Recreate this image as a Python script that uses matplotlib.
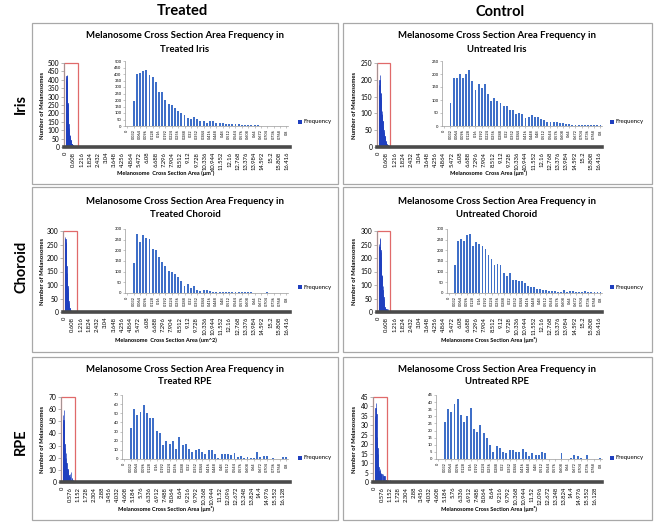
import numpy as np
import matplotlib
matplotlib.use("Agg")
import matplotlib.pyplot as plt
from matplotlib.patches import Rectangle

plt.rcParams['font.family'] = ['Lato', 'DejaVu Sans']

W, H = 656, 524

# histogram bins are 0.016 um^2 wide; the zoomed inset shows bins 0.032 .. 0.8
BIN = 0.016
FIRST_BIN = 2

# counts per bin (0.032 .. 0.8)
treated_iris = [195, 400, 410, 425, 430, 390, 380, 335, 262, 258,
                200, 170, 160, 135, 115, 100, 85, 65, 55, 70,
                55, 40, 40, 25, 35, 40, 20, 20, 20, 15,
                15, 12, 12, 12, 8, 8, 8, 5, 5, 5,
                3, 3, 3, 3, 2, 2, 2, 2, 2]
untreated_iris = [90, 185, 185, 200, 185, 200, 215, 175, 140, 160,
                  148, 160, 122, 95, 108, 97, 88, 78, 78, 62,
                  60, 48, 50, 45, 32, 35, 42, 33, 33, 27,
                  25, 17, 15, 15, 15, 12, 10, 7, 7, 5,
                  5, 5, 4, 3, 5, 2, 3, 2, 2]
treated_choroid = [140, 278, 238, 270, 260, 255, 205, 200, 170, 145,
                   128, 103, 97, 90, 75, 58, 35, 42, 25, 33,
                   15, 10, 15, 13, 10, 5, 5, 5, 5, 7,
                   3, 3, 3, 5, 3, 3, 5, 3, 2, 2,
                   1, 1, 3, 1, 2, 2, 1, 2, 1]
untreated_choroid = [132, 245, 252, 242, 270, 275, 222, 240, 228, 222,
                     205, 178, 160, 133, 138, 130, 95, 82, 95, 63,
                     62, 58, 55, 48, 35, 28, 30, 20, 18, 15,
                     12, 10, 8, 8, 5, 5, 12, 5, 8, 8,
                     5, 5, 3, 10, 3, 5, 3, 5, 5]
treated_rpe = [34, 55, 48, 51, 59, 50, 45, 45, 31, 28,
               15, 20, 16, 20, 11, 24, 15, 16, 11, 8,
               10, 11, 8, 5, 10, 10, 6, 1, 5, 6,
               5, 4, 7, 2, 3, 1, 2, 1, 1, 8,
               2, 3, 3, 0, 1, 0, 0, 2, 2]
untreated_rpe = [26, 35, 33, 39, 42, 31, 26, 30, 36, 21,
                 19, 24, 18, 15, 10, 5, 9, 8, 5, 4,
                 6, 6, 5, 5, 7, 5, 2, 4, 3, 3,
                 5, 4, 0, 0, 0, 0, 4, 0, 0, 1,
                 3, 2, 1, 0, 3, 0, 0, 0, 1]

# small tails past 0.8 that only show in the full-range plots
treated_iris_tail = [2, 1, 1, 2, 1, 1, 0, 1, 1, 0, 1, 0, 1, 0, 0, 1, 0, 0, 1]
untreated_iris_tail = [2, 2, 1, 1, 2, 1, 1, 1, 0, 1, 1, 0, 1, 1, 0, 0, 1, 0, 1]
treated_choroid_tail = [2, 1, 1, 1, 2, 1, 0, 1, 1, 0, 1, 0, 0, 1, 0, 0, 1]
untreated_choroid_tail = [4, 3, 3, 2, 3, 2, 2, 1, 2, 1, 1, 1, 0, 1, 1, 0, 1, 0, 1]
treated_rpe_tail = [1, 0, 1, 1, 0, 0, 1, 0, 0, 0, 0, 0, 1, 0, 0, 0, 0, 0, 0, 0, 1]
untreated_rpe_tail = [0, 1, 0, 0, 1, 0, 0, 0, 1, 0, 0, 0, 0, 1, 0, 0, 0, 0, 0, 0, 1]

inset_labels = ["0", "0.032", "0.064", "0.096", "0.128", "0.16", "0.192", "0.224",
                "0.256", "0.288", "0.32", "0.352", "0.384", "0.416", "0.448", "0.48",
                "0.512", "0.544", "0.576", "0.608", "0.64", "0.672", "0.704", "0.736",
                "0.768", "0.8"]
ticks_608 = ["0", "0.608", "1.216", "1.824", "2.432", "3.04", "3.648", "4.256",
             "4.864", "5.472", "6.08", "6.688", "7.296", "7.904", "8.512", "9.12",
             "9.728", "10.336", "10.944", "11.552", "12.16", "12.768", "13.376",
             "13.984", "14.592", "15.2", "15.808", "16.416"]
ticks_576 = ["0", "0.576", "1.152", "1.728", "2.304", "2.88", "3.456", "4.032",
             "4.608", "5.184", "5.76", "6.336", "6.912", "7.488", "8.064", "8.64",
             "9.216", "9.792", "10.368", "10.944", "11.52", "12.096", "12.672",
             "13.248", "13.824", "14.4", "14.976", "15.552", "16.128"]

XLAB = "Melanosome Cross Section Area (\u03bcm\u00b2)"

panels = [
    dict(row=0, col=0, data=treated_iris, tail=treated_iris_tail, ymax=500, ystep=50,
         title="Treated Iris", xlabel="Melanosome  Cross Section Area (\u03bcm\u00b2)",
         ticks=ticks_608, main_left=64, inset_left=125),
    dict(row=0, col=1, data=untreated_iris, tail=untreated_iris_tail, ymax=250, ystep=50,
         title="Untreated Iris", xlabel="Melanosome  Cross Area (\u03bcm\u00b2)",
         ticks=ticks_608, main_left=377, inset_left=442),
    dict(row=1, col=0, data=treated_choroid, tail=treated_choroid_tail, ymax=300, ystep=50,
         title="Treated Choroid", xlabel="Melanosome  Cross Section Area (um^2)",
         ticks=ticks_608, main_left=63, inset_left=125),
    dict(row=1, col=1, data=untreated_choroid, tail=untreated_choroid_tail, ymax=300, ystep=50,
         title="Untreated Choroid", xlabel=XLAB,
         ticks=ticks_608, main_left=377, inset_left=447),
    dict(row=2, col=0, data=treated_rpe, tail=treated_rpe_tail, ymax=70, ystep=10,
         title="Treated RPE", xlabel=XLAB,
         ticks=ticks_576, main_left=61, inset_left=122),
    dict(row=2, col=1, data=untreated_rpe, tail=untreated_rpe_tail, ymax=45, ystep=5,
         title="Untreated RPE", xlabel=XLAB,
         ticks=ticks_576, main_left=373, inset_left=436),
]

# pixel layout of rows and columns
ROWS = [
    dict(box=(23, 184), t1=35, t2=49, mtop=63, mzero=147, itop=61, izero=126, xlab=173, leg=122),
    dict(box=(187, 352), t1=202, t2=215, mtop=231, mzero=312, itop=229, izero=293, xlab=340, leg=287),
    dict(box=(357, 520), t1=369, t2=382, mtop=397, mzero=482, itop=395, izero=459, xlab=509, leg=458),
]
COLS = [
    dict(box=(32, 338), title=185, main_right=290, inset_right=288, ylab=43, leg=300, xlab=166),
    dict(box=(343, 652), title=497, main_right=602, inset_right=602, ylab=355, leg=612, xlab=489),
]

MAIN_BLUE = "#1f3fbf"
INSET_BLUE = "#3f6fc8"
GRID_GREY = "#9a9a9a"


def fig_rect(x0, y0, x1, y1):
    return [x0 / W, 1 - y1 / H, (x1 - x0) / W, (y1 - y0) / H]


def draw_panel(fig, p):
    r = ROWS[p["row"]]
    c = COLS[p["col"]]

    bx0, bx1 = c["box"]
    by0, by1 = r["box"]
    fig.add_artist(Rectangle((bx0 / W, 1 - by1 / H), (bx1 - bx0) / W, (by1 - by0) / H,
                             transform=fig.transFigure, fill=False, ec="#a8a8a8", lw=0.9))

    fig.text(c["title"] / W, 1 - r["t1"] / H, "Melanosome Cross Section Area Frequency in",
             ha="center", va="center", fontsize=6.9, fontweight="bold")
    fig.text(c["title"] / W, 1 - r["t2"] / H, p["title"],
             ha="center", va="center", fontsize=6.9, fontweight="bold")

    yticks = np.arange(0, p["ymax"] + 1, p["ystep"])

    # full range histogram
    ax = fig.add_axes(fig_rect(p["main_left"], r["mtop"], c["main_right"], r["mzero"]))
    counts = np.array(p["data"] + p["tail"])
    x = BIN * np.arange(FIRST_BIN, FIRST_BIN + len(counts))
    ax.bar(x, counts, width=BIN, color=MAIN_BLUE, ec=MAIN_BLUE, lw=0.5)
    ax.set_xlim(-0.1, 16.63)
    ax.set_ylim(0, p["ymax"])
    ax.set_yticks(yticks)
    ax.set_yticklabels([str(v) for v in yticks], fontsize=4.8)
    ax.set_xticks([float(t) for t in p["ticks"]])
    ax.set_xticklabels(p["ticks"], rotation=90, fontsize=4.2)
    ax.tick_params(axis="x", length=0, pad=3.5)
    ax.tick_params(axis="y", length=2, width=0.5, color=GRID_GREY, pad=1.5)
    for s in ["top", "right"]:
        ax.spines[s].set_visible(False)
    ax.spines["left"].set_color(GRID_GREY)
    ax.spines["left"].set_linewidth(0.6)
    ax.spines["bottom"].set_color("#4a4a4a")
    ax.spines["bottom"].set_linewidth(2.6)
    ax.add_patch(Rectangle((-0.1, 0), 1.0, p["ymax"], fill=False, ec="#e06a6a",
                           lw=0.9, clip_on=False))

    fig.text(c["ylab"] / W, 1 - (r["mtop"] + r["mzero"]) / 2 / H, "Number of Melanosomes",
             rotation=90, ha="center", va="center", fontsize=4.2, fontweight="bold")
    fig.text(c["xlab"] / W, 1 - r["xlab"] / H, p["xlabel"],
             ha="center", va="center", fontsize=4.1, fontweight="bold")

    # zoomed inset of the first bins
    iax = fig.add_axes(fig_rect(p["inset_left"], r["itop"], c["inset_right"], r["izero"]))
    idx = np.arange(FIRST_BIN, FIRST_BIN + len(p["data"]))
    iax.bar(idx, p["data"], width=0.6, color=INSET_BLUE, lw=0)
    iax.set_xlim(-0.7, 50.5)
    iax.set_ylim(0, p["ymax"])
    iax.set_yticks(yticks)
    iax.set_yticklabels([str(v) for v in yticks], fontsize=3.0)
    iax.set_xticks(np.arange(0, 2 * len(inset_labels), 2))
    iax.set_xticklabels(inset_labels, rotation=90, fontsize=2.8)
    iax.tick_params(length=1.5, width=0.4, color=GRID_GREY, pad=1)
    for s in ["top", "right"]:
        iax.spines[s].set_visible(False)
    for s in ["left", "bottom"]:
        iax.spines[s].set_color(GRID_GREY)
        iax.spines[s].set_linewidth(0.5)
    iax.patch.set_alpha(0)

    # legend
    lx, ly = c["leg"], r["leg"]
    fig.add_artist(Rectangle(((lx - 2) / W, 1 - (ly + 2) / H), 4 / W, 4 / H,
                             transform=fig.transFigure, color=MAIN_BLUE, lw=0))
    fig.text((lx + 4) / W, 1 - ly / H, "Frequency", ha="left", va="center", fontsize=4.4)


fig = plt.figure(figsize=(W / 100, H / 100), dpi=100)

fig.text(182 / W, 1 - 11 / H, "Treated", ha="center", va="center",
         fontsize=10.5, fontweight="bold")
fig.text(500 / W, 1 - 12 / H, "Control", ha="center", va="center",
         fontsize=10.5, fontweight="bold")
for label, yc in [("Iris", 104), ("Choroid", 267), ("RPE", 442)]:
    fig.text(21 / W, 1 - yc / H, label, rotation=90, ha="center", va="center",
             fontsize=10.5, fontweight="bold")

for p in panels:
    draw_panel(fig, p)

fig.savefig("out.png", dpi=100)
